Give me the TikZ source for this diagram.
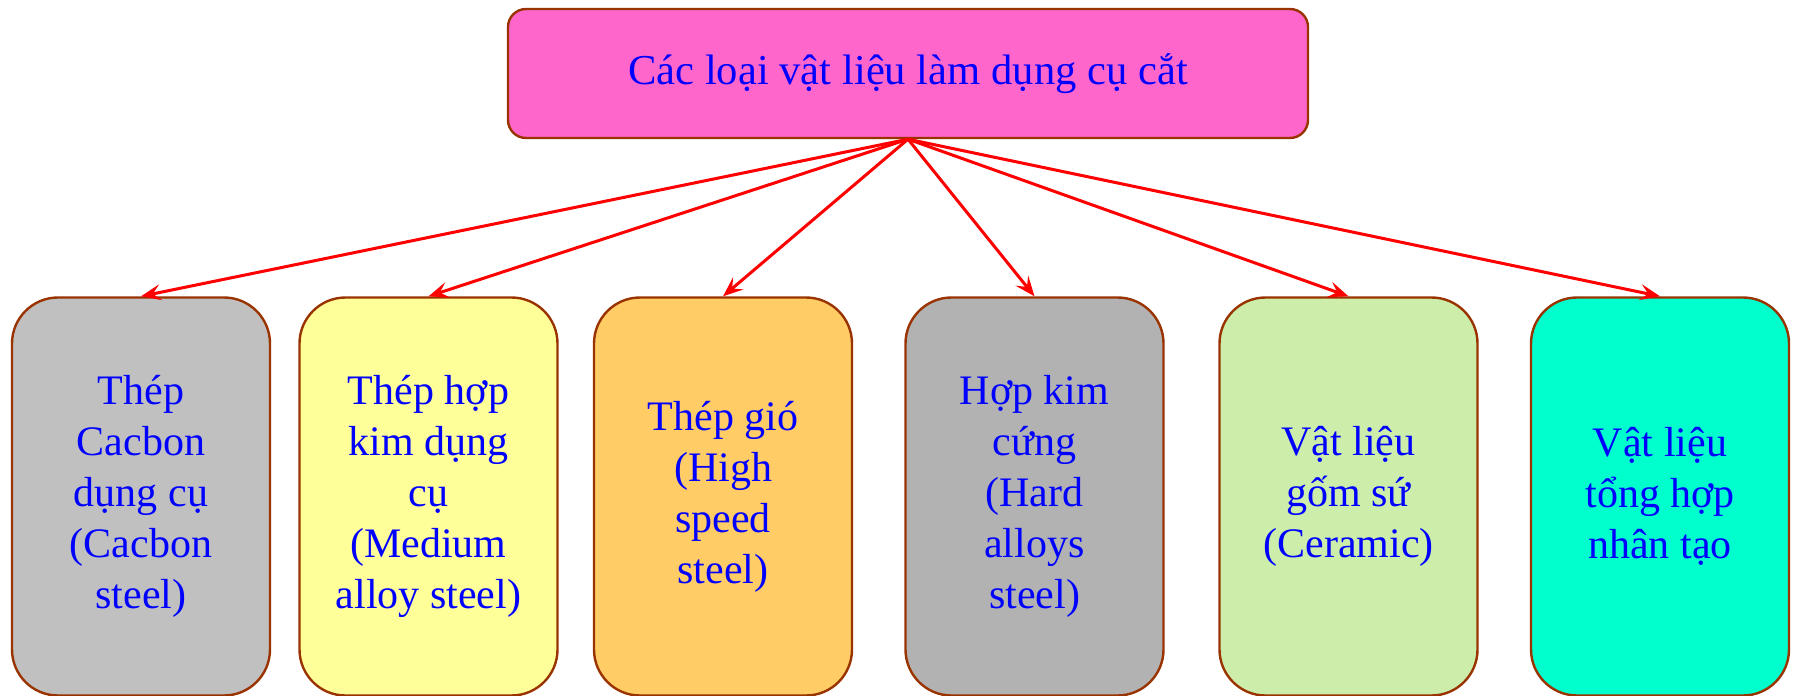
\documentclass[tikz,border=0pt]{standalone}
\usepackage{fontspec}
\setmainfont{Liberation Serif}
\usetikzlibrary{arrows.meta}
\definecolor{edgebrown}{RGB}{153,51,0}
\definecolor{toppink}{RGB}{255,102,204}
\definecolor{fillA}{RGB}{192,192,192}
\definecolor{fillB}{RGB}{255,255,153}
\definecolor{fillC}{RGB}{255,204,102}
\definecolor{fillD}{RGB}{178,178,178}
\definecolor{fillE}{RGB}{204,238,170}
\definecolor{fillF}{RGB}{0,255,204}
\tikzset{
  rootbox/.style={draw=edgebrown, line width=1.2pt, fill=toppink, rounded corners=9pt,
    minimum width=400pt, minimum height=64.5pt, inner sep=0pt,
    text=blue, font=\fontsize{21.3}{26}\selectfont},
  kindbox/.style={draw=edgebrown, line width=1.2pt, rounded corners=23pt,
    minimum width=129pt, minimum height=199pt, inner sep=0pt,
    text=blue, align=center, font=\fontsize{21}{25.5}\selectfont},
  link/.style={draw=red, line width=1.5pt,
    -{Stealth[length=10pt, width=8pt, inset=4pt]}}
}
\begin{document}
\begin{tikzpicture}[x=0.5pt, y=-0.5pt]
  \useasboundingbox (0,0) rectangle (1794,696);
  \begin{scope}
    \clip (0,0) rectangle (1794,696);
    \node[rootbox] (root) at (908,73.5) {Các loại vật liệu làm dụng cụ cắt};
    \node[kindbox, fill=fillA] (b1) at (141,496.5) {Thép\\Cacbon\\dụng cụ\\(Cacbon\\steel)};
    \node[kindbox, fill=fillB] (b2) at (428.5,496.5) {Thép hợp\\kim dụng\\cụ\\(Medium\\alloy steel)};
    \node[kindbox, fill=fillC] (b3) at (723,496.5) {Thép gió\\(High\\speed\\steel)};
    \node[kindbox, fill=fillD] (b4) at (1034.5,496.5) {Hợp kim\\cứng\\(Hard\\alloys\\steel)};
    \node[kindbox, fill=fillE] (b5) at (1348.5,496.5) {Vật liệu\\gốm sứ\\(Ceramic)};
    \node[kindbox, fill=fillF] (b6) at (1660,496.5) {Vật liệu\\tổng hợp\\nhân tạo};
    \foreach \k in {b1,b2,b3,b4,b5,b6}
      \draw[link] (root.south) -- (\k.north);
  \end{scope}
\end{tikzpicture}
\end{document}
